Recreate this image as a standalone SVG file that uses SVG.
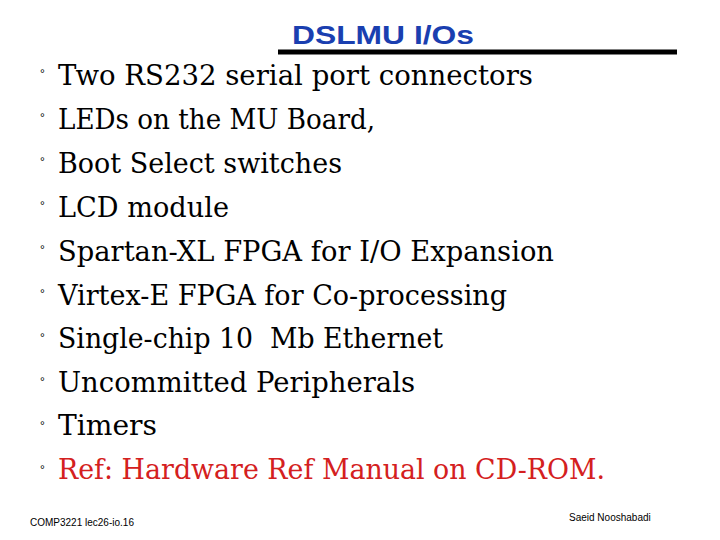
<svg xmlns="http://www.w3.org/2000/svg" width="720" height="540" viewBox="0 0 720 540">
<style>
.b{font-family:"Liberation Sans",sans-serif;font-size:12px;fill:#000}
.t{font-family:"DejaVu Serif","Liberation Serif",serif;font-size:27px;fill:#000}
.r{fill:#d42020}
.f{font-family:"Liberation Sans",sans-serif;font-size:10px;fill:#000}
</style>
<rect width="720" height="540" fill="#fff"/>
<g id="title">
<text x="292" y="44" font-family="Liberation Sans,sans-serif" font-weight="bold" font-size="26" fill="#1a3fb0" textLength="182" lengthAdjust="spacingAndGlyphs">DSLMU I/Os</text>
<line x1="278" y1="52" x2="677" y2="52" stroke="#000" stroke-width="5"/>
</g>
<g id="bullets">
<text class="b" x="40" y="78">°</text><text class="t" x="58" y="85" textLength="475" lengthAdjust="spacingAndGlyphs">Two RS232 serial port connectors</text>
<text class="b" x="40" y="122">°</text><text class="t" x="58" y="129" textLength="317" lengthAdjust="spacingAndGlyphs">LEDs on the MU Board,</text>
<text class="b" x="40" y="166">°</text><text class="t" x="58" y="173" textLength="284" lengthAdjust="spacingAndGlyphs">Boot Select switches</text>
<text class="b" x="40" y="210">°</text><text class="t" x="58" y="217" textLength="171" lengthAdjust="spacingAndGlyphs">LCD module</text>
<text class="b" x="40" y="254">°</text><text class="t" x="58" y="261" textLength="496" lengthAdjust="spacingAndGlyphs">Spartan-XL FPGA for I/O Expansion</text>
<text class="b" x="40" y="298">°</text><text class="t" x="58" y="305" textLength="449" lengthAdjust="spacingAndGlyphs">Virtex-E FPGA for Co-processing</text>
<text class="b" x="40" y="342">°</text><text class="t" x="58" y="348" textLength="385" lengthAdjust="spacingAndGlyphs" xml:space="preserve">Single-chip 10  Mb Ethernet</text>
<text class="b" x="40" y="386">°</text><text class="t" x="58" y="392" textLength="357" lengthAdjust="spacingAndGlyphs">Uncommitted Peripherals</text>
<text class="b" x="40" y="430">°</text><text class="t" x="58" y="435" textLength="99" lengthAdjust="spacingAndGlyphs">Timers</text>
<text class="b" x="40" y="474">°</text><text class="t r" x="58" y="479" textLength="547" lengthAdjust="spacingAndGlyphs">Ref: Hardware Ref Manual on CD-ROM.</text>
</g>
<g id="footer">
<text class="f" x="30" y="526">COMP3221 lec26-io.16</text>
<text class="f" x="569" y="521">Saeid Nooshabadi</text>
</g>
</svg>
